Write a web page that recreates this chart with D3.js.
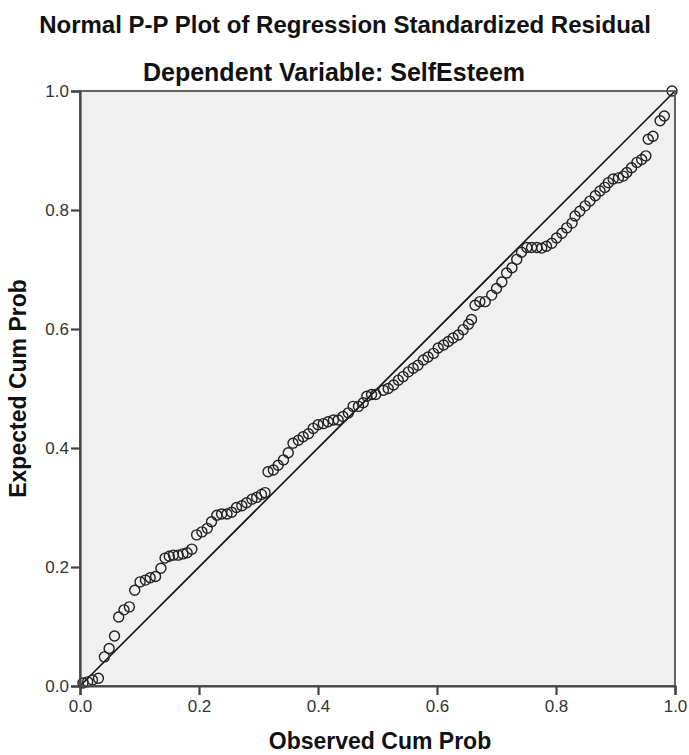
<!DOCTYPE html>
<html>
<head>
<meta charset="utf-8">
<script src="https://cdn.jsdelivr.net/npm/d3@7/dist/d3.min.js"></script>
<style>
  html, body { margin: 0; padding: 0; background: #fff; }
  svg { display: block; font-family: Arial, "Liberation Sans", sans-serif; }
</style>
</head>
<body>
<svg id="chart" width="689" height="755"></svg>
<script>
const title = "Normal P-P Plot of Regression Standardized Residual";
const subtitle = "Dependent Variable: SelfEsteem";
const xLabel = "Observed Cum Prob";
const yLabel = "Expected Cum Prob";
const tickValues = [0, 0.2, 0.4, 0.6, 0.8, 1.0];

const observed = [
  0.005, 0.013, 0.021, 0.031, 0.041, 0.049, 0.058, 0.065, 0.074, 0.083,
  0.092, 0.101, 0.110, 0.118, 0.127, 0.136, 0.143, 0.150, 0.157, 0.165,
  0.173, 0.180, 0.188, 0.196, 0.205, 0.214,
  0.221, 0.230, 0.238, 0.247, 0.255, 0.263, 0.272, 0.280, 0.289, 0.297,
  0.305, 0.311, 0.316, 0.325, 0.333, 0.342, 0.350, 0.358, 0.367, 0.375,
  0.384, 0.392, 0.400, 0.409, 0.417, 0.426, 0.434, 0.442, 0.451, 0.459,
  0.468, 0.476, 0.482, 0.490, 0.497,
  0.510, 0.518, 0.527, 0.535, 0.543, 0.552, 0.560, 0.568, 0.577, 0.585,
  0.594, 0.602, 0.611, 0.619, 0.627, 0.636, 0.644, 0.653, 0.658, 0.664,
  0.672, 0.681, 0.692, 0.700, 0.709, 0.717, 0.726, 0.734, 0.742, 0.751,
  0.759, 0.768,
  0.776, 0.784, 0.793, 0.801, 0.810, 0.818, 0.827, 0.832, 0.840, 0.849,
  0.857, 0.866, 0.874, 0.882, 0.888, 0.896, 0.905, 0.913, 0.919, 0.927,
  0.936, 0.944, 0.951, 0.955, 0.963, 0.975, 0.982, 0.995
];
const expected = [
  0.005, 0.007, 0.010, 0.013, 0.049, 0.063, 0.084, 0.116, 0.128, 0.133,
  0.161, 0.175, 0.178, 0.182, 0.184, 0.198, 0.215, 0.218, 0.220, 0.220,
  0.222, 0.224, 0.230, 0.254, 0.259, 0.265,
  0.276, 0.287, 0.289, 0.289, 0.292, 0.300, 0.303, 0.308, 0.314, 0.317,
  0.322, 0.325, 0.360, 0.363, 0.371, 0.380, 0.392, 0.408, 0.413, 0.419,
  0.424, 0.433, 0.439, 0.441, 0.444, 0.447, 0.447, 0.453, 0.459, 0.470,
  0.470, 0.476, 0.487, 0.490, 0.490,
  0.497, 0.500, 0.506, 0.514, 0.520, 0.528, 0.534, 0.539, 0.548, 0.553,
  0.559, 0.568, 0.573, 0.579, 0.585, 0.590, 0.599, 0.608, 0.616, 0.640,
  0.646, 0.646, 0.657, 0.668, 0.679, 0.694, 0.703, 0.717, 0.729, 0.737,
  0.737, 0.737,
  0.736, 0.739, 0.744, 0.753, 0.761, 0.770, 0.778, 0.790, 0.798, 0.807,
  0.815, 0.824, 0.832, 0.838, 0.846, 0.852, 0.854, 0.857, 0.863, 0.871,
  0.880, 0.885, 0.891, 0.919, 0.924, 0.950, 0.958, 1.000
];
const points = observed.map((o, i) => ({ o, e: expected[i] }));

const svg = d3.select("#chart");
const pLeft = 80, pRight = 675, pTop = 91, pBottom = 686;

const x = d3.scaleLinear().domain([0, 1]).range([pLeft, pRight]);
const y = d3.scaleLinear().domain([0, 1]).range([pBottom, pTop]);

// plot background
svg.append("rect")
  .attr("x", pLeft).attr("y", pTop)
  .attr("width", pRight - pLeft).attr("height", pBottom - pTop)
  .attr("fill", "#f0f0f0");

// reference line
svg.append("line")
  .attr("x1", x(0)).attr("y1", y(0))
  .attr("x2", x(1)).attr("y2", y(1))
  .attr("stroke", "#111").attr("stroke-width", 1.6);

// points
svg.append("g").selectAll("circle")
  .data(points).enter().append("circle")
  .attr("cx", d => x(d.o))
  .attr("cy", d => y(d.e))
  .attr("r", 5)
  .attr("fill", "none")
  .attr("stroke", "#222")
  .attr("stroke-width", 1.4);

// frame
svg.append("rect")
  .attr("x", pLeft).attr("y", pTop)
  .attr("width", pRight - pLeft).attr("height", pBottom - pTop)
  .attr("fill", "none")
  .attr("stroke", "#555").attr("stroke-width", 1.8);

const fmt = d3.format(".1f");
const xAxis = svg.append("g")
  .attr("transform", `translate(0,${pBottom})`)
  .call(d3.axisBottom(x).tickValues(tickValues).tickFormat(fmt).tickSize(9).tickPadding(5));
const yAxis = svg.append("g")
  .attr("transform", `translate(${pLeft},0)`)
  .call(d3.axisLeft(y).tickValues(tickValues).tickFormat(fmt).tickSize(9).tickPadding(2));

[xAxis, yAxis].forEach(g => {
  g.select(".domain").attr("stroke", "#444").attr("stroke-width", 2.2);
  g.selectAll(".tick line").attr("stroke", "#444").attr("stroke-width", 2.2);
  g.selectAll(".tick text")
    .attr("fill", "#333")
    .style("font-size", "17px")
    .style("font-family", "Arial, 'Liberation Sans', sans-serif");
});

// titles
svg.append("text")
  .attr("x", 345).attr("y", 33)
  .attr("text-anchor", "middle")
  .style("font-size", "24px").style("font-weight", "bold")
  .attr("fill", "#111")
  .text(title);
svg.append("text")
  .attr("x", 334).attr("y", 81)
  .attr("text-anchor", "middle")
  .style("font-size", "25px").style("font-weight", "bold")
  .attr("fill", "#111")
  .text(subtitle);

svg.append("text")
  .attr("x", 380).attr("y", 749)
  .attr("text-anchor", "middle")
  .style("font-size", "23px").style("font-weight", "bold")
  .attr("fill", "#111")
  .text(xLabel);
svg.append("text")
  .attr("transform", `translate(26,${(pTop + pBottom) / 2}) rotate(-90)`)
  .attr("text-anchor", "middle")
  .style("font-size", "23px").style("font-weight", "bold")
  .attr("fill", "#111")
  .text(yLabel);
</script>
</body>
</html>
